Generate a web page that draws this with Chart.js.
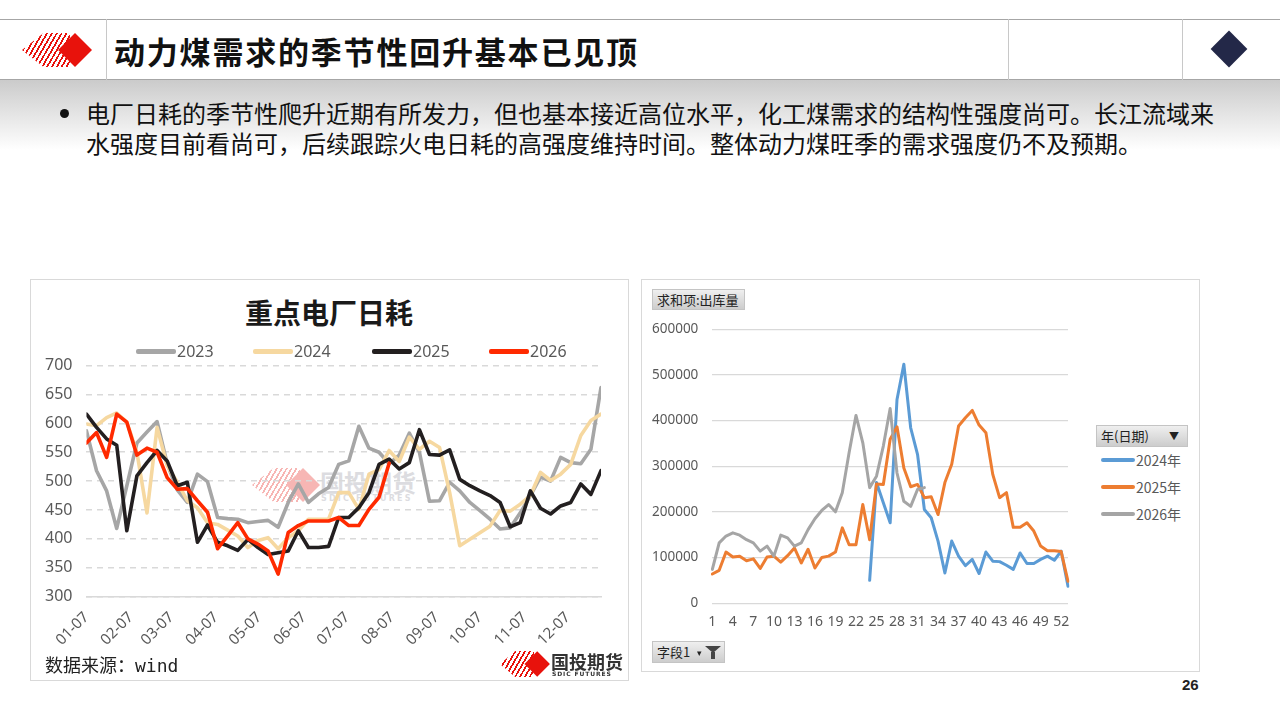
<!DOCTYPE html>
<html>
<head>
<meta charset="utf-8">
<script src="https://cdn.jsdelivr.net/npm/chart.js@4.4.1/dist/chart.umd.min.js"></script>
<style>
  body { margin: 0; width: 1280px; height: 720px; overflow: hidden; background: #fff;
         font-family: "Noto Sans CJK SC", "Noto Sans", sans-serif; position: relative; }
  .abs { position: absolute; }
  #hdr { left: 0; top: 19px; width: 1280px; height: 59px; border-top: 1px solid #a6a6a6; border-bottom: 1px solid #a6a6a6; }
  .vsep { top: 19px; width: 1px; height: 61px; background: #c8c8c8; }
  #shade { left: 0; top: 80px; width: 1280px; height: 70px; background: linear-gradient(#cbcbcb, #ffffff); }
  #title { left: 114px; top: 28px; font-size: 31px; font-weight: 700; color: #111; letter-spacing: 1.8px; white-space: nowrap; }
  #navy { left: 1216px; top: 36px; width: 26px; height: 26px; background: #232848; transform: rotate(45deg); }
  #bullet { left: 60px; top: 98px; font-size: 24px; line-height: 30px; color: #111; letter-spacing: 0px; white-space: nowrap; }
  #bullet .dot { position: absolute; left: 0; top: 11px; width: 9px; height: 9px; border-radius: 50%; background: #111; }
  #bullet .txt { margin-left: 26px; }
  .box { border: 1px solid #d9d9d9; background: transparent; }
  .logo { position: absolute; }
  .stripes { position: absolute; background: repeating-linear-gradient(120deg, #e8120c 0 1.7px, transparent 1.7px 4.2px); }
  .diam { position: absolute; background: #e8120c; transform: rotate(45deg); }
  .ltxt { position: absolute; font-weight: 700; white-space: nowrap; }
  .sdic { position: absolute; font-family: "DejaVu Sans", sans-serif; font-weight: 700; white-space: nowrap; }
  #ltitle { left: 30px; top: 292px; width: 598px; text-align: center; font-size: 28px; font-weight: 700; color: #1a1a1a; }
  #llegend { left: 30px; top: 340px; width: 598px; height: 22px; }
  .lg { position: absolute; top: 0; height: 22px; font-family: "Noto Sans", sans-serif; font-size: 16px; color: #595959; line-height: 22px; }
  .lg i { position: absolute; top: 9px; left: 0; height: 5px; border-radius: 2px; }
  #src { left: 45px; top: 651px; font-size: 18px; color: #222; font-family: "DejaVu Sans Mono", "Noto Sans CJK SC", monospace; white-space: nowrap; }
  .btn { position: absolute; background: linear-gradient(#efefef, #cdcdcd); border: 1px solid #c4c4c4; font-size: 13px; color: #222; line-height: 20px; white-space: nowrap; box-sizing: border-box; }
  .rlg { position: absolute; font-size: 14px; color: #595959; height: 20px; line-height: 20px; white-space: nowrap; }
  .rlg i { position: absolute; left: 0; top: 8px; width: 34px; height: 4px; border-radius: 2px; }
  #page { left: 1182px; top: 676px; font-size: 15px; font-weight: 700; color: #222; font-family: "Liberation Sans", sans-serif; }
</style>
</head>
<body>
<div id="hdr" class="abs"></div>
<div class="abs vsep" style="left:106px"></div>
<div class="abs vsep" style="left:1008px"></div>
<div class="abs vsep" style="left:1182px"></div>
<div id="shade" class="abs"></div>
<div id="hlogo" class="logo" style="left:22px;top:33px;width:72px;height:34px;"></div>
<div id="title" class="abs">动力煤需求的季节性回升基本已见顶</div>
<div id="navy" class="abs"></div>
<div id="bullet" class="abs"><span class="dot"></span><div class="txt">电厂日耗的季节性爬升近期有所发力，但也基本接近高位水平，化工煤需求的结构性强度尚可。长江流域来<br>水强度目前看尚可，后续跟踪火电日耗的高强度维持时间。整体动力煤旺季的需求强度仍不及预期。</div></div>

<div class="abs box" style="left:30px;top:279px;width:597px;height:400px;"></div>
<div id="wmark" class="logo" style="left:252px;top:468px;width:170px;height:36px;opacity:0.3;"></div>
<canvas id="left" class="abs" width="598" height="319" style="left:17px;top:342px;"></canvas>
<div id="ltitle" class="abs">重点电厂日耗</div>
<div id="llegend" class="abs"></div>
<div id="src" class="abs">数据来源：wind</div>
<div id="flogo" class="logo" style="left:500px;top:651px;width:124px;height:28px;"></div>

<div class="abs box" style="left:641px;top:279px;width:557px;height:391px;"></div>
<canvas id="right" class="abs" width="440" height="333" style="left:638px;top:307px;"></canvas>
<div class="btn" style="left:652px;top:289px;width:93px;height:21px;padding-left:4px;">求和项:出库量</div>
<div class="btn" style="left:1096px;top:425px;width:92px;height:22px;padding-left:4px;">年(日期)<span style="position:absolute;right:8px;top:0;font-size:10px;">▼</span></div>
<div class="btn" style="left:652px;top:641px;width:73px;height:22px;padding-left:4px;">字段1
  <span style="position:absolute;left:44px;top:1px;font-size:9px;">▾</span>
  <span style="position:absolute;left:52px;top:4px;width:0;height:0;border-left:8px solid transparent;border-right:8px solid transparent;border-top:7px solid #444;"></span>
  <span style="position:absolute;left:58px;top:10px;width:4px;height:7px;background:#444;"></span>
</div>
<div id="rlegend"></div>
<div id="page" class="abs">26</div>

<script>
// left chart: weekly power plant daily consumption (starting 01-07)
const monthLabels = ['01-07', '02-07', '03-07', '04-07', '05-07', '06-07', '07-07', '08-07', '09-07', '10-07', '11-07', '12-07'];
const coal2023 = [587, 518, 483, 418, 492, 566, 585, 603, 530, 485,
  463, 512, 499, 437, 435, 434, 428, 430, 432, 420,
  463, 495, 463, 478, 489, 529, 535, 595, 557, 550,
  530, 545, 583, 550, 465, 466, 498, 483, 463, 449,
  434, 417, 419, 445, 475, 507, 500, 541, 532, 530,
  555, 662];
const coal2024 = [599, 596, 610, 618, 602, 550, 445, 593, 527, 498,
  466, 454, 428, 425, 415, 405, 385, 397, 402, 383,
  402, 414, 434, 434, 434, 480, 480, 451, 512, 520,
  553, 534, 576, 555, 569, 558, 480, 388, null, null,
  422, 449, 448, 460, 475, 515, 501, 512, 529, 579,
  605, 616];
const coal2025 = [616, 593, 573, 562, 414, 509, 532, 553, 535, 492,
  498, 394, 424, 394, 388, 380, 399, 385, 373, 376,
  379, 414, 385, 385, 387, 437, 437, 454, 480, 529,
  538, 521, 532, 589, 546, 545, 554, 503, 492, 483,
  475, 463, 421, 428, 483, 453, 443, 457, 463, 495,
  477, 518];
const coal2026 = [566, 584, 541, 616, 602, 545, 557, 550, 506, 486,
  487, 466, 446, 383, 405, 428, 400, 391, 379, 339,
  411, 423, 431, 431, 431, 437, 423, 423, 451, 472,
  531];

// right chart: weekly outbound volume
const weekLabels = ['1', '2', '3', '4', '5', '6', '7', '8', '9', '10', '11', '12', '13', '14', '15', '16', '17', '18',
  '19', '20', '21', '22', '23', '24', '25', '26', '27', '28', '29', '30', '31', '32', '33', '34', '35', '36',
  '37', '38', '39', '40', '41', '42', '43', '44', '45', '46', '47', '48', '49', '50', '51', '52', '53'];
const out2024 = [null, null, null, null, null, null, null, null, null, null,
  null, null, null, null, null, null, null, null, null, null,
  null, null, null, 50000, 264000, 220000, 176000, 446000, 523000, 384000,
  326000, 205000, 187000, 136000, 66000, 136000, 103000, 82000, 96000, 65000,
  112000, 92000, 91000, 83000, 74000, 110000, 87000, 87000, 96000, 103000,
  94000, 114000, 37000];
const out2025 = [64000, 72000, 112000, 101000, 103000, 93000, 97000, 76000, 101000, 103000,
  90000, 104000, 121000, 88000, 118000, 77000, 100000, 103000, 112000, 165000,
  128000, 128000, 216000, 139000, 261000, 260000, 359000, 386000, 296000, 255000,
  260000, 231000, 233000, 194000, 264000, 304000, 388000, 406000, 422000, 390000,
  373000, 282000, 231000, 242000, 166000, 166000, 176000, 158000, 125000, 115000,
  115000, 113000, 48000];
const out2026 = [74000, 132000, 147000, 154000, 149000, 139000, 132000, 114000, 125000, 103000,
  149000, 143000, 125000, 132000, 161000, 185000, 203000, 216000, 200000, 242000,
  330000, 411000, 351000, 253000, 278000, 344000, 426000, 285000, 223000, 212000,
  249000, 253000];

// logos
function drawLogo(el, opts) {
  const s = document.createElement('div');
  s.className = 'stripes';
  s.style.cssText = `left:0;top:0;width:${opts.sw}px;height:${opts.h}px;clip-path:polygon(0 50%,45% 0,100% 0,100% 100%,45% 100%);`;
  el.appendChild(s);
  const d = document.createElement('div');
  d.className = 'diam';
  const side = opts.h / Math.SQRT2;
  d.style.cssText = `left:${opts.dx + (opts.h - side) / 2}px;top:${(opts.h - side) / 2}px;width:${side}px;height:${side}px;`;
  el.appendChild(d);
  if (opts.text) {
    const t = document.createElement('div');
    t.className = 'ltxt';
    t.textContent = '国投期货';
    t.style.cssText = `left:${opts.tx}px;top:${opts.ty}px;font-size:${opts.fs}px;color:${opts.tc};line-height:1;`;
    el.appendChild(t);
    const e = document.createElement('div');
    e.className = 'sdic';
    e.textContent = 'SDIC FUTURES';
    e.style.cssText = `left:${opts.tx + 1}px;top:${opts.ty + opts.fs + 1}px;font-size:${opts.es}px;color:${opts.tc};letter-spacing:${opts.ls}px;line-height:1;`;
    el.appendChild(e);
  }
}
drawLogo(document.getElementById('hlogo'), { sw: 48, h: 34, dx: 36 });
drawLogo(document.getElementById('wmark'), { sw: 48, h: 34, dx: 34, text: true, tx: 68, ty: 2, fs: 24, es: 8, ls: 2.2, tc: '#8f8f9a' });
drawLogo(document.getElementById('flogo'), { sw: 34, h: 26, dx: 24, text: true, tx: 51, ty: 1, fs: 18, es: 6, ls: 0.9, tc: '#333' });

// left chart
const leftSeries = [
  { label: '2023', data: coal2023, color: '#a6a6a6', order: 4, gaps: false },
  { label: '2024', data: coal2024, color: '#f6d8a0', order: 3, gaps: true },
  { label: '2025', data: coal2025, color: '#231f20', order: 2, gaps: false },
  { label: '2026', data: coal2026, color: '#ff2a00', order: 1, gaps: false },
];
const dayMs = 86400000;
const monthPos = monthLabels.map((m, i) => (Date.UTC(2025, i, 7) - Date.UTC(2025, 0, 7)) / (7 * dayMs));

const legX = [106, 223, 342, 459];
const llg = document.getElementById('llegend');
leftSeries.forEach((s, i) => {
  const d = document.createElement('div');
  d.className = 'lg';
  d.style.left = legX[i] + 'px';
  d.innerHTML = `<i style="width:40px;background:${s.color}"></i><span style="margin-left:41px">${s.label}</span>`;
  llg.appendChild(d);
});

new Chart(document.getElementById('left'), {
  type: 'line',
  data: {
    datasets: leftSeries.map(s => ({
      label: s.label,
      data: s.data.map((v, i) => ({ x: i, y: v })),
      borderColor: s.color,
      backgroundColor: s.color,
      borderWidth: 3.6,
      pointRadius: 0,
      tension: 0,
      spanGaps: s.gaps,
      order: s.order,
      borderJoinStyle: 'round',
      borderCapStyle: 'round',
    })),
  },
  options: {
    responsive: false,
    animation: false,
    layout: { padding: { left: 14, right: 14, top: 4, bottom: 0 } },
    plugins: { legend: { display: false }, tooltip: { enabled: false } },
    scales: {
      x: {
        type: 'linear',
        min: 0,
        max: 51,
        afterBuildTicks: (scale) => { scale.ticks = monthPos.map(v => ({ value: v })); },
        ticks: {
          autoSkip: false,
          minRotation: 45,
          maxRotation: 45,
          padding: 12,
          color: '#595959',
          font: { family: 'Noto Sans', size: 15 },
          callback: (value) => {
            const idx = monthPos.findIndex(p => Math.abs(p - value) < 0.01);
            return idx >= 0 ? monthLabels[idx] : '';
          },
        },
        grid: { display: false, drawTicks: false },
        border: { display: true, color: '#d9d9d9', width: 1.5 },
      },
      y: {
        min: 300,
        max: 700,
        ticks: { stepSize: 50, padding: 14, color: '#595959', font: { family: 'Noto Sans', size: 16 } },
        grid: { color: '#d9d9d9', lineWidth: 1.5, drawTicks: false },
        border: { display: false, dash: [6, 5] },
      },
    },
  },
});

// right chart
const rightSeries = [
  { label: '2024年', data: out2024, color: '#5b9bd5' },
  { label: '2025年', data: out2025, color: '#ed7d31' },
  { label: '2026年', data: out2026, color: '#a5a5a5' },
];
const rlgEl = document.getElementById('rlegend');
rightSeries.forEach((s, i) => {
  const d = document.createElement('div');
  d.className = 'rlg';
  d.style.left = '1101px';
  d.style.top = (450 + i * 27) + 'px';
  d.innerHTML = `<i style="background:${s.color}"></i><span style="margin-left:35px">${s.label}</span>`;
  rlgEl.appendChild(d);
});

new Chart(document.getElementById('right'), {
  type: 'line',
  data: {
    labels: weekLabels,
    datasets: rightSeries.map((s, i) => ({
      label: s.label,
      data: s.data,
      borderColor: s.color,
      backgroundColor: s.color,
      borderWidth: 3,
      pointRadius: 0,
      tension: 0,
      order: 3 - i,
      borderJoinStyle: 'round',
      borderCapStyle: 'round',
    })),
  },
  options: {
    responsive: false,
    animation: false,
    layout: { padding: { left: 0, right: 6, top: 2, bottom: 0 } },
    plugins: { legend: { display: false }, tooltip: { enabled: false } },
    scales: {
      x: {
        ticks: {
          autoSkip: false,
          maxRotation: 0,
          padding: 10,
          color: '#595959',
          font: { family: 'Noto Sans', size: 14 },
          callback: (v, i) => (i % 3 === 0 ? weekLabels[i] : ''),
        },
        grid: { display: false, drawTicks: false },
        border: { display: false },
      },
      y: {
        min: 0,
        max: 600000,
        ticks: {
          stepSize: 100000, padding: 14, color: '#595959',
          font: { family: 'Noto Sans', size: 13.5 },
          callback: (v) => String(v),
        },
        grid: { color: '#d9d9d9', lineWidth: 1.2, drawTicks: false },
        border: { display: false },
      },
    },
  },
});
</script>
</body>
</html>
